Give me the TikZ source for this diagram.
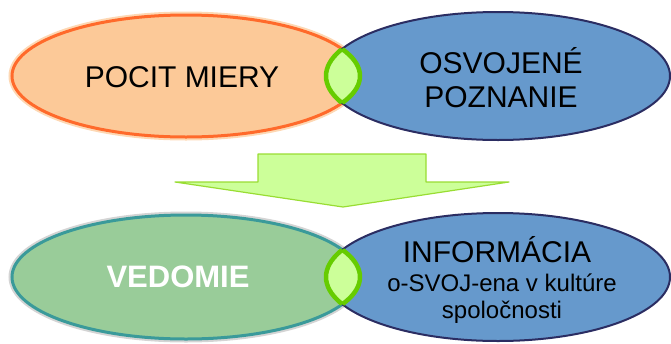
\documentclass[tikz,border=0pt]{standalone}
\usepackage{fontspec}
\setmainfont{Liberation Sans}
\usetikzlibrary{shapes.geometric}
\definecolor{orfill}{HTML}{FCC998}
\definecolor{orline}{HTML}{FF6A2B}
\definecolor{orglow}{HTML}{FDD8B4}
\definecolor{blfill}{HTML}{6699CC}
\definecolor{blline}{HTML}{2B2D62}
\definecolor{grfill}{HTML}{99CC99}
\definecolor{grline}{HTML}{3A9A9A}
\definecolor{grglow}{HTML}{D4D4D4}
\definecolor{lnfill}{HTML}{CCFF99}
\definecolor{lnline}{HTML}{66CC00}
\definecolor{arline}{HTML}{99DD33}
\tikzset{
  leftell/.style={ellipse, inner sep=0pt, minimum width=348pt, minimum height=122pt},
  rightell/.style={ellipse, inner sep=0pt, minimum width=344pt, minimum height=128pt, fill=blfill, draw=blline, line width=2pt},
  lensline/.style={draw=lnline, line width=4.5pt},
  bigtext/.style={font=\fontsize{30}{35}\selectfont, align=center, inner sep=0pt},
  smalltext/.style={font=\fontsize{24}{27.5}\selectfont, inner sep=0pt, anchor=base},
}
\begin{document}
\begin{tikzpicture}[x=1pt,y=-1pt]
\useasboundingbox (0,0) rectangle (671,343);
% ---------- top row ----------
\draw[orglow, line width=7pt] (186,76) ellipse [x radius=174pt, y radius=61pt];
\node[leftell, fill=orfill, draw=orline, line width=3pt] (pocit) at (186,76) {};
\node[rightell] (osvoj) at (498,76) {};
\begin{scope}
  \clip (186,76) ellipse [x radius=174pt, y radius=61pt];
  \fill[lnfill] (498,76) ellipse [x radius=172pt, y radius=64pt];
  \draw[lensline] (498,76) ellipse [x radius=172pt, y radius=64pt];
\end{scope}
\begin{scope}
  \clip (498,76) ellipse [x radius=172pt, y radius=64pt];
  \draw[lensline] (186,76) ellipse [x radius=174pt, y radius=61pt];
\end{scope}
\node[bigtext] (tpocit) at (182,77) {POCIT MIERY};
\node[bigtext, font=\fontsize{30}{34}\selectfont] (tosvoj) at (501,78) {OSVOJENÉ\\POZNANIE};
% ---------- arrow ----------
\draw[fill=lnfill, draw=arline, line width=1.2pt, line join=round]
  (258,154) -- (426,154) -- (426,182) -- (509,182) -- (343,207) -- (175,182) -- (258,182) -- cycle;
% ---------- bottom row ----------
\draw[grglow, line width=7pt] (186,277) ellipse [x radius=174pt, y radius=62pt];
\node[leftell, minimum height=124pt, fill=grfill, draw=grline, line width=3pt] (vedom) at (186,277) {};
\node[rightell] (inform) at (498,277) {};
\begin{scope}
  \clip (186,277) ellipse [x radius=174pt, y radius=62pt];
  \fill[lnfill] (498,277) ellipse [x radius=172pt, y radius=64pt];
  \draw[lensline] (498,277) ellipse [x radius=172pt, y radius=64pt];
\end{scope}
\begin{scope}
  \clip (498,277) ellipse [x radius=172pt, y radius=64pt];
  \draw[lensline] (186,277) ellipse [x radius=174pt, y radius=62pt];
\end{scope}
\node[bigtext, font=\fontsize{31}{35}\selectfont\bfseries, text=white] (tvedom) at (178,277) {VEDOMIE};
\node[bigtext, anchor=base] (tinform) at (497,262) {INFORMÁCIA};
\node[smalltext] (tline1) at (502,291) {o-SVOJ-ena v kultúre};
\node[smalltext] (tline2) at (502,318) {spoločnosti};
\end{tikzpicture}
\end{document}
